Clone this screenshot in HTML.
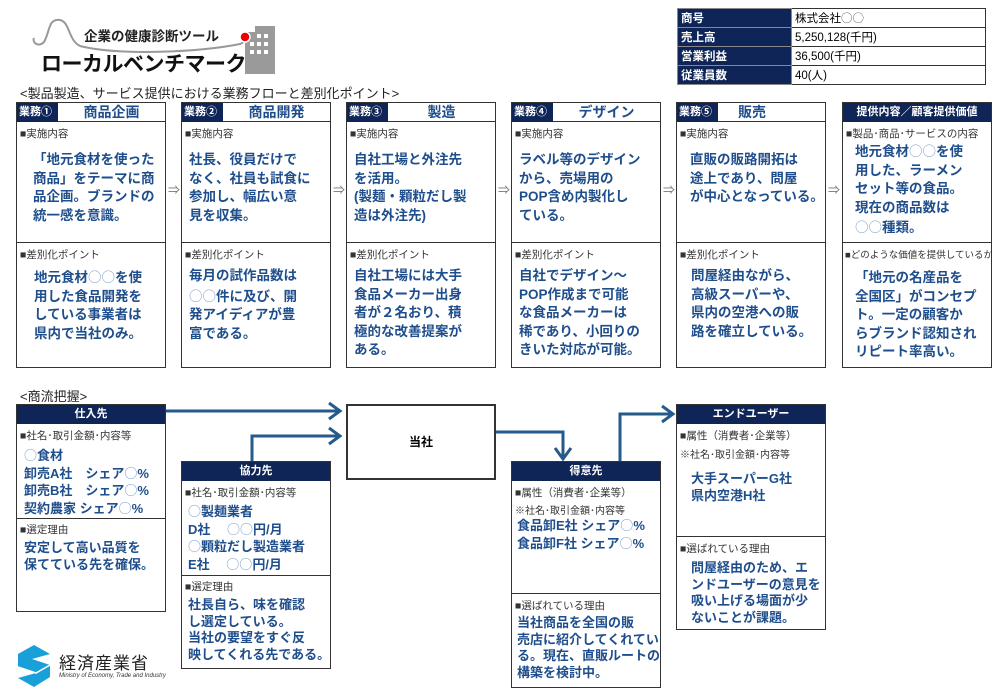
<!DOCTYPE html>
<html><head><meta charset="utf-8"><style>
*{margin:0;padding:0;box-sizing:border-box}
body{width:1000px;height:696px;background:#fff;position:relative;overflow:hidden;font-family:"Liberation Sans","Noto Sans CJK JP",sans-serif;color:#000}
.a{position:absolute}
.box{position:absolute;border:1.5px solid #333;background:#fff}
.hd{position:absolute;left:0;top:0;right:0;height:19px;border-bottom:1.5px solid #333}
.tag{position:absolute;left:0;top:0;width:41px;height:19px;background:#0f2557;color:#fff;font-size:11px;font-weight:bold;line-height:19px;padding-left:2px;white-space:nowrap}
.tt{position:absolute;left:41px;right:0;top:0;height:19px;line-height:19px;text-align:center;color:#1f4e8c;font-weight:bold;font-size:14px}
.nh{position:absolute;left:0;top:0;right:0;height:19px;background:#0f2557;color:#fff;font-weight:bold;font-size:11px;text-align:center;line-height:19px}
.sm{position:absolute;font-size:10.5px;color:#333;white-space:nowrap}
.bt{position:absolute;color:#1f4e8c;font-weight:bold;font-size:13.5px;line-height:18.5px;white-space:nowrap}
.o{font-family:"Noto Sans CJK JP",sans-serif;font-weight:normal;color:#7a9cc8}
.dv{position:absolute;left:0;right:0;border-top:1.5px solid #333}
.arr{position:absolute;font-size:12px;color:#777}
table{border-collapse:collapse}
</style></head><body>
<svg class="a" style="left:20px;top:12px" width="270" height="70">
<path d="M40 8 C28 6 30 20 24 30 C18 36 12 30 14 26 M40 8 C50 10 48 28 60 34 C100 44 180 40 220 32 C226 30 226 26 225 25" fill="none" stroke="#999" stroke-width="2"/>
<rect x="225" y="14" width="30" height="48" fill="#9a9a9a"/>
<rect x="225" y="14" width="10" height="6" fill="#fff"/>
<g fill="#fff"><rect x="237" y="22" width="4" height="4"/><rect x="244" y="22" width="4" height="4"/><rect x="237" y="30" width="4" height="4"/><rect x="244" y="30" width="4" height="4"/><rect x="237" y="38" width="4" height="4"/><rect x="244" y="38" width="4" height="4"/><rect x="230" y="38" width="4" height="4"/><rect x="230" y="30" width="4" height="4"/></g>
<circle cx="225" cy="25" r="5" fill="#e00" stroke="#fff" stroke-width="1.5"/>
</svg>
<div class="a" style="left:84px;top:25px;font-size:13.5px;font-weight:bold;color:#222;white-space:nowrap">企業の健康診断ツール</div>
<div class="a" style="left:41px;top:48px;font-size:21px;font-weight:bold;color:#111;white-space:nowrap;letter-spacing:-0.5px">ローカルベンチマーク</div>
<div class="a" style="left:20px;top:83px;font-size:13px;color:#222;white-space:nowrap">&lt;製品製造、サービス提供における業務フローと差別化ポイント&gt;</div>

<table class="a" style="left:677px;top:8px;width:309px;font-size:11.5px">
<tr style="height:19px"><td style="width:114px;background:#0f2557;color:#fff;font-weight:bold;border:1px solid #888;padding-left:3px">商号</td><td style="border:1px solid #333;padding-left:3px">株式会社<span class="o" style="color:#555">○○</span></td></tr>
<tr style="height:19px"><td style="background:#0f2557;color:#fff;font-weight:bold;border:1px solid #888;padding-left:3px">売上高</td><td style="border:1px solid #333;padding-left:3px">5,250,128(千円)</td></tr>
<tr style="height:19px"><td style="background:#0f2557;color:#fff;font-weight:bold;border:1px solid #888;padding-left:3px">営業利益</td><td style="border:1px solid #333;padding-left:3px">36,500(千円)</td></tr>
<tr style="height:19px"><td style="background:#0f2557;color:#fff;font-weight:bold;border:1px solid #888;padding-left:3px">従業員数</td><td style="border:1px solid #333;padding-left:3px">40(人)</td></tr>
</table>

<div class="box" style="left:16px;top:102px;width:150px;height:266px">
<div class="hd"><div class="tag">業務①</div><div class="tt">商品企画</div></div>
<div class="sm" style="left:3px;top:23px">■実施内容</div>
<div class="bt" style="left:16px;top:48px">「地元食材を使った<br>商品」をテーマに商<br>品企画。ブランドの<br>統一感を意識。</div>
<div class="dv" style="top:139px"></div>
<div class="sm" style="left:3px;top:144px">■差別化ポイント</div>
<div class="bt" style="left:17px;top:164px">地元食材<span class="o">○○</span>を使<br>用した食品開発を<br>している事業者は<br>県内で当社のみ。</div>
</div>
<div class="arr" style="left:168px;top:181px">⇒</div>

<div class="box" style="left:181px;top:102px;width:150px;height:266px">
<div class="hd"><div class="tag">業務②</div><div class="tt">商品開発</div></div>
<div class="sm" style="left:3px;top:23px">■実施内容</div>
<div class="bt" style="left:7px;top:48px">社長、役員だけで<br>なく、社員も試食に<br>参加し、幅広い意<br>見を収集。</div>
<div class="dv" style="top:139px"></div>
<div class="sm" style="left:3px;top:144px">■差別化ポイント</div>
<div class="bt" style="left:7px;top:164px">毎月の試作品数は<br><span class="o">○○</span>件に及び、開<br>発アイディアが豊<br>富である。</div>
</div>
<div class="arr" style="left:333px;top:181px">⇒</div>

<div class="box" style="left:346px;top:102px;width:150px;height:266px">
<div class="hd"><div class="tag">業務③</div><div class="tt">製造</div></div>
<div class="sm" style="left:3px;top:23px">■実施内容</div>
<div class="bt" style="left:7px;top:48px">自社工場と外注先<br>を活用。<br>(製麺・顆粒だし製<br>造は外注先)</div>
<div class="dv" style="top:139px"></div>
<div class="sm" style="left:3px;top:144px">■差別化ポイント</div>
<div class="bt" style="left:7px;top:164px">自社工場には大手<br>食品メーカー出身<br>者が２名おり、積<br>極的な改善提案が<br>ある。</div>
</div>
<div class="arr" style="left:498px;top:181px">⇒</div>

<div class="box" style="left:511px;top:102px;width:150px;height:266px">
<div class="hd"><div class="tag">業務④</div><div class="tt">デザイン</div></div>
<div class="sm" style="left:3px;top:23px">■実施内容</div>
<div class="bt" style="left:7px;top:48px">ラベル等のデザイン<br>から、売場用の<br>POP含め内製化し<br>ている。</div>
<div class="dv" style="top:139px"></div>
<div class="sm" style="left:3px;top:144px">■差別化ポイント</div>
<div class="bt" style="left:7px;top:164px">自社でデザイン～<br>POP作成まで可能<br>な食品メーカーは<br>稀であり、小回りの<br>きいた対応が可能。</div>
</div>
<div class="arr" style="left:663px;top:181px">⇒</div>

<div class="box" style="left:676px;top:102px;width:150px;height:266px">
<div class="hd"><div class="tag">業務⑤</div><div class="tt" style="text-align:left;padding-left:20px">販売</div></div>
<div class="sm" style="left:3px;top:23px">■実施内容</div>
<div class="bt" style="left:13px;top:48px">直販の販路開拓は<br>途上であり、問屋<br>が中心となっている。</div>
<div class="dv" style="top:139px"></div>
<div class="sm" style="left:3px;top:144px">■差別化ポイント</div>
<div class="bt" style="left:14px;top:164px">問屋経由ながら、<br>高級スーパーや、<br>県内の空港への販<br>路を確立している。</div>
</div>
<div class="arr" style="left:828px;top:181px">⇒</div>

<div class="box" style="left:842px;top:102px;width:150px;height:266px;overflow:hidden">
<div class="nh">提供内容／顧客提供価値</div>
<div class="sm" style="left:3px;top:23px">■製品･商品･サービスの内容</div>
<div class="bt" style="left:12px;top:38px">地元食材<span class="o">○○</span>を使<br>用した、ラーメン<br>セット等の食品。<br>現在の商品数は<br><span class="o">○○</span>種類。</div>
<div class="dv" style="top:139px"></div>
<div class="sm" style="left:2px;top:144px;font-size:9.5px">■どのような価値を提供しているか</div>
<div class="bt" style="left:12px;top:166px">「地元の名産品を<br>全国区」がコンセプ<br>ト。一定の顧客か<br>らブランド認知され<br>リピート率高い。</div>
</div>

<div class="a" style="left:20px;top:386px;font-size:13px;color:#222">&lt;商流把握&gt;</div>

<svg class="a" style="left:0;top:0" width="1000" height="696">
<g fill="none" stroke="#255a8c" stroke-width="3">
<path d="M166 411 H340"/><path d="M329 403 L340 411 L329 419"/>
<path d="M252 461 V436 H340"/><path d="M329 428 L340 436 L329 444"/>
<path d="M496 432 H563 V458"/><path d="M555 448 L563 459 L571 448"/>
<path d="M620 461 V414 H673"/><path d="M662 406 L673 414 L662 422"/>
</g>
</svg>

<div class="box" style="left:16px;top:404px;width:150px;height:208px">
<div class="nh">仕入先</div>
<div class="sm" style="left:3px;top:23px">■社名･取引金額･内容等</div>
<div class="bt" style="left:7px;top:42px;font-size:13px;line-height:16.5px"><span class="o">○</span>食材<br>卸売A社　シェア<span class="o">○</span>%<br>卸売B社　シェア<span class="o">○</span>%<br>契約農家 シェア<span class="o">○</span>%</div>
<div class="dv" style="top:113px"></div>
<div class="sm" style="left:3px;top:117px">■選定理由</div>
<div class="bt" style="left:7px;top:135px;font-size:13px;line-height:16.5px">安定して高い品質を<br>保てている先を確保。</div>
</div>

<div class="box" style="left:181px;top:461px;width:150px;height:208px">
<div class="nh">協力先</div>
<div class="sm" style="left:3px;top:23px">■社名･取引金額･内容等</div>
<div class="bt" style="left:6px;top:41px;font-size:13px;line-height:16.5px"><span class="o">○</span>製麺業者<br>D社　 <span class="o">○○</span>円/月<br><span class="o">○</span>顆粒だし製造業者<br>E社　 <span class="o">○○</span>円/月</div>
<div class="dv" style="top:113px"></div>
<div class="sm" style="left:3px;top:117px">■選定理由</div>
<div class="bt" style="left:6px;top:135px;font-size:13px;line-height:16.5px">社長自ら、味を確認<br>し選定している。<br>当社の要望をすぐ反<br>映してくれる先である。</div>
</div>

<div class="box" style="left:346px;top:404px;width:150px;height:76px;border-width:2px">
<div class="a" style="left:0;right:0;top:27px;text-align:center;font-weight:bold;font-size:12px">当社</div>
</div>

<div class="box" style="left:511px;top:461px;width:150px;height:227px">
<div class="nh">得意先</div>
<div class="sm" style="left:3px;top:23px">■属性（消費者･企業等）</div>
<div class="sm" style="left:3px;top:40px;font-size:10px">※社名･取引金額･内容等</div>
<div class="bt" style="left:5px;top:55px;font-size:13px;line-height:16.5px">食品卸E社 シェア<span class="o">○</span>%<br>食品卸F社 シェア<span class="o">○</span>%</div>
<div class="dv" style="top:131px"></div>
<div class="sm" style="left:3px;top:136px">■選ばれている理由</div>
<div class="bt" style="left:5px;top:153px;font-size:13px;line-height:16.5px">当社商品を全国の販<br>売店に紹介してくれてい<br>る。現在、直販ルートの<br>構築を検討中。</div>
</div>

<div class="box" style="left:676px;top:404px;width:150px;height:226px">
<div class="nh">エンドユーザー</div>
<div class="sm" style="left:3px;top:23px">■属性（消費者･企業等）</div>
<div class="sm" style="left:3px;top:41px;font-size:10px">※社名･取引金額･内容等</div>
<div class="bt" style="left:14px;top:66px;font-size:13px;line-height:16.5px">大手スーパーG社<br>県内空港H社</div>
<div class="dv" style="top:131px"></div>
<div class="sm" style="left:3px;top:136px">■選ばれている理由</div>
<div class="bt" style="left:14px;top:155px;font-size:13px;line-height:16.5px">問屋経由のため、エ<br>ンドユーザーの意見を<br>吸い上げる場面が少<br>ないことが課題。</div>
</div>

<svg class="a" style="left:14px;top:645px" width="40" height="42">
<path d="M20 0 L36 9 L18 14 L36 20 L36 32 L20 42 L4 33 L22 28 L4 22 L4 9 Z" fill="#1aa0d8"/>
<path d="M4 22 L22 28 L36 20" fill="none" stroke="#fff" stroke-width="1.5"/>
</svg>
<div class="a" style="left:59px;top:649px;font-size:17px;color:#222;letter-spacing:1px;white-space:nowrap">経済産業省</div>
<div class="a" style="left:59px;top:673px;font-size:6px;font-style:italic;color:#333;white-space:nowrap">Ministry of Economy, Trade and Industry</div>
</body></html>
